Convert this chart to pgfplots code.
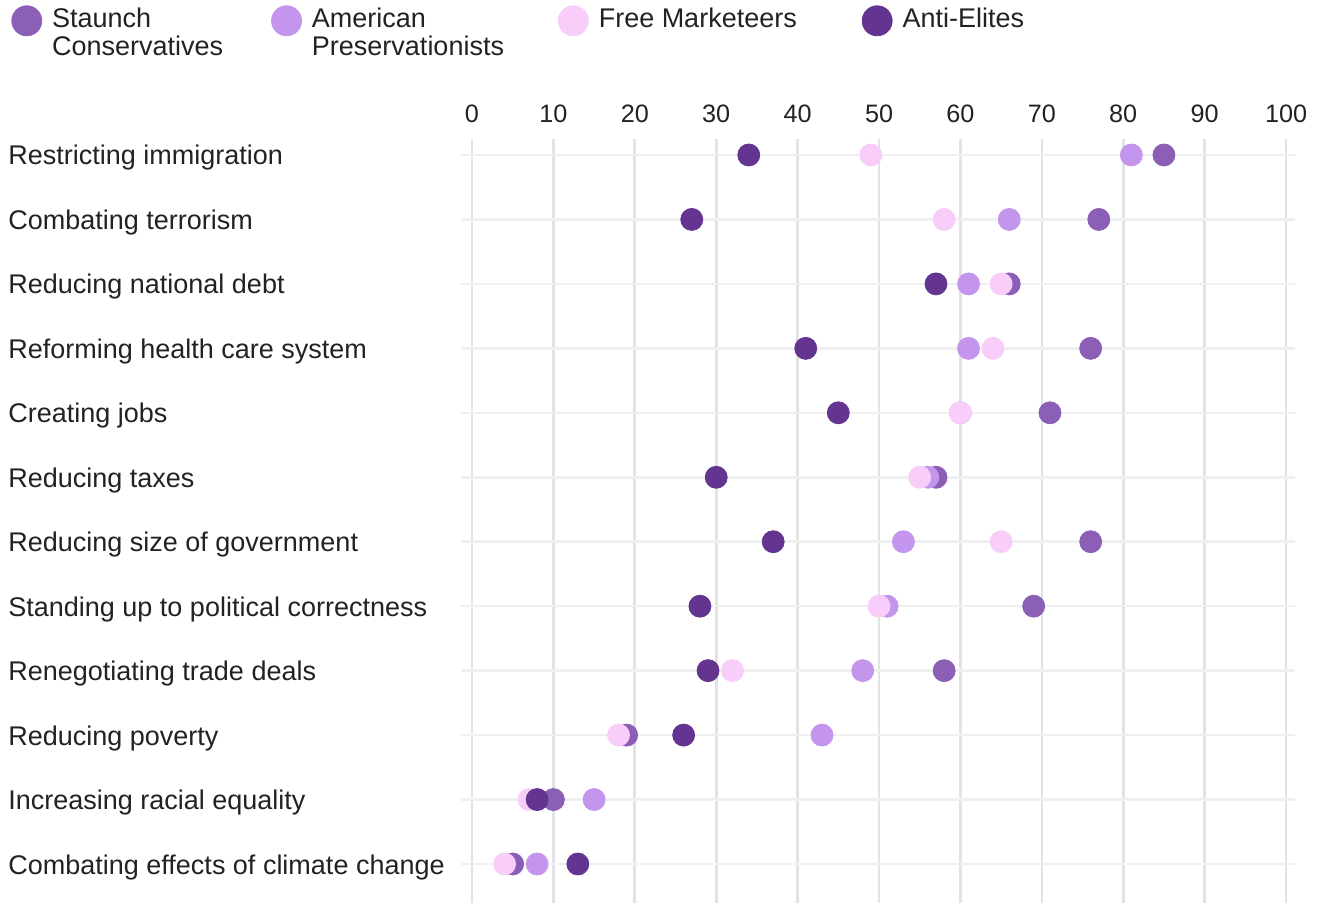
\documentclass[border=0pt]{standalone}
\usepackage{pgfplots}
\pgfplotsset{compat=1.18}
\usepackage{pgfplotstable}
\usepackage{fontspec}
\setmainfont{Liberation Sans}

\definecolor{sccol}{HTML}{8B5FB5}
\definecolor{apcol}{HTML}{C395EC}
\definecolor{fmcol}{HTML}{F8CDF9}
\definecolor{aecol}{HTML}{643590}
\definecolor{vgrid}{HTML}{E3E3E3}
\definecolor{hgrid}{HTML}{F0F0F0}
\definecolor{txt}{HTML}{222222}

% share of each group rating the issue as a top priority
\pgfplotstableread{
row sc ap fm ae
1   85 81 49 34
2   77 66 58 27
3   66 61 65 57
4   76 61 64 41
5   71 60 60 45
6   57 56 55 30
7   76 53 65 37
8   69 51 50 28
9   58 48 32 29
10  19 43 18 26
11  10 15  7  8
12   5  8  4 13
}\prio

\begin{document}
\begin{tikzpicture}
\useasboundingbox (0,0) rectangle (659.5pt,451.5pt);
\begin{axis}[
  at={(230.5pt,0pt)}, anchor=south west,
  scale only axis, width=417pt, height=382pt,
  xmin=-1.35, xmax=101.1,
  ymin=0.752, ymax=12.605, y dir=reverse,
  axis line style={draw=none},
  major tick length=0pt,
  xtick={0,10,...,100}, xticklabel pos=upper,
  xticklabel style={font=\fontsize{12.6}{14}\selectfont, text=txt, anchor=south, inner sep=0pt, yshift=8pt},
  ytick={1,...,12},
  yticklabels={Restricting immigration, Combating terrorism, Reducing national debt,
    Reforming health care system, Creating jobs, Reducing taxes,
    Reducing size of government, Standing up to political correctness,
    Renegotiating trade deals, Reducing poverty, Increasing racial equality,
    Combating effects of climate change},
  yticklabel style={font=\fontsize{13.5}{15}\selectfont, text=txt, anchor=base west, inner sep=0pt, xshift=-226.5pt, yshift=-5pt},
  /pgf/number format/assume math mode=true,
  xmajorgrids, ymajorgrids,
  x grid style={vgrid, line width=1.3pt},
  y grid style={hgrid, line width=1.3pt},
  dot/.style={only marks, mark=*, mark size=5.5pt,
    legend image code/.code={\fill[##1] (7.5pt,0.33em) circle (7.5pt);}},
  legend columns=4,
  legend cell align=left,
  legend style={at={(-0.5396,1.1754)}, anchor=north west, draw=none, fill=none,
    inner sep=0pt, font=\fontsize{13.5}{14}\selectfont, text=txt,
    cells={anchor=base west}, nodes={inner sep=0pt},
    /tikz/every odd column/.append style={column sep=5pt}},
]
\addplot[dot, color=sccol] table[x=sc, y=row] {\prio};
\addlegendentry{\parbox[t]{109.5pt}{Staunch\\Conservatives}}
\addplot[dot, color=apcol] table[x=ap, y=row] {\prio};
\addlegendentry{\parbox[t]{123pt}{American\\Preservationists}}
\addplot[dot, color=fmcol] table[x=fm, y=row] {\prio};
\addlegendentry{\parbox[t]{131.5pt}{Free Marketeers}}
\addplot[dot, color=aecol] table[x=ae, y=row] {\prio};
\addlegendentry{Anti-Elites}
\end{axis}
\end{tikzpicture}
\end{document}
